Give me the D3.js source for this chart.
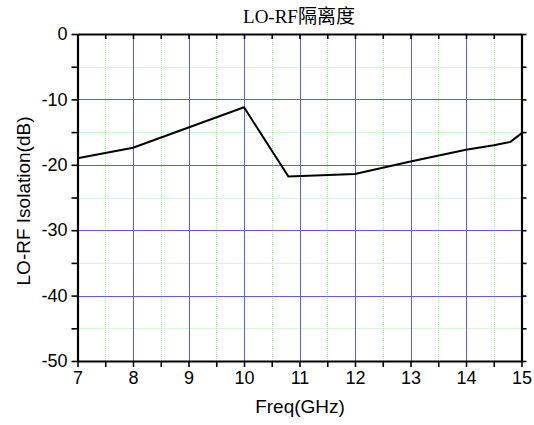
<!DOCTYPE html>
<html>
<head>
<meta charset="utf-8">
<script src="https://cdn.jsdelivr.net/npm/d3@7"></script>
<style>
  body { margin: 0; background: #fff; }
  text { font-family: Arial, "Liberation Sans", sans-serif; }
</style>
</head>
<body>
<svg width="534" height="425"></svg>
<script>
var freq = [7, 8, 9, 10, 10.8, 12, 13, 14, 14.5, 14.8, 15];
var isolation = [-19.0, -17.4, -14.3, -11.2, -21.8, -21.4, -19.5, -17.7, -17.0, -16.5, -15.2];
var xTicks = [7, 8, 9, 10, 11, 12, 13, 14, 15];
var yTicks = [0, -10, -20, -30, -40, -50];

(function () {
    'use strict';
    var svg = d3.select("svg");
    var left = 77.5, right = 521.5, top = 34, bottom = 361;

    var x = d3.scaleLinear().domain([7, 15]).range([left, right]);
    var y = d3.scaleLinear().domain([-50, 0]).range([bottom, top]);
    var px = function (d) { return Math.round(x(d)) + 0.5; };
    var py = function (d) { return Math.round(y(d)) + 0.5; };

    var xMinor = d3.range(7.5, 15, 1);
    var yMinor = d3.range(-45, 0, 10);

    // minor grid (green dotted)
    var g = svg.append("g");
    g.selectAll(".vminor").data(xMinor).enter().append("line")
        .attr("x1", px).attr("x2", px).attr("y1", top).attr("y2", bottom)
        .attr("stroke", "#a8eea8").attr("stroke-dasharray", "1,1");
    g.selectAll(".hminor").data(yMinor).enter().append("line")
        .attr("y1", py).attr("y2", py).attr("x1", left).attr("x2", right)
        .attr("stroke", "#a8eea8").attr("stroke-dasharray", "1,1");

    // major grid (blue)
    g.selectAll(".vmajor").data(xTicks.slice(1, -1)).enter().append("line")
        .attr("x1", px).attr("x2", px).attr("y1", top).attr("y2", bottom)
        .attr("stroke", "#5a5aff").attr("stroke-width", 1);
    g.selectAll(".hmajor").data(yTicks.slice(1, -1)).enter().append("line")
        .attr("y1", py).attr("y2", py).attr("x1", left).attr("x2", right)
        .attr("stroke", "#5a5aff").attr("stroke-width", 1);

    // data line
    var line = d3.line()
        .x(function (d, i) { return x(freq[i]); })
        .y(function (d) { return y(d); });
    svg.append("path")
        .datum(isolation)
        .attr("d", line)
        .attr("fill", "none")
        .attr("stroke", "#000")
        .attr("stroke-width", 2);

    // axes
    var allX = d3.range(7, 15.01, 0.5);
    var allY = d3.range(-50, 0.01, 5);
    function styleAxis(sel) {
        sel.select(".domain").attr("stroke-width", 2.2);
        sel.selectAll(".tick line").attr("stroke-width", 1.6);
        sel.selectAll("text").attr("font-size", 18).attr("fill", "#000");
    }

    var xb = svg.append("g").attr("transform", "translate(0," + bottom + ")")
        .call(d3.axisBottom(x).tickValues(allX).tickSize(6).tickSizeOuter(0).tickPadding(4)
            .tickFormat(function (d) { return d % 1 === 0 ? d : ""; }));
    styleAxis(xb);

    var xt = svg.append("g").attr("transform", "translate(0," + top + ")")
        .call(d3.axisBottom(x).tickValues(allX).tickSize(5).tickSizeOuter(0).tickFormat(""));
    styleAxis(xt);

    var yl = svg.append("g").attr("transform", "translate(" + left + ",0)")
        .call(d3.axisLeft(y).tickValues(allY).tickSize(6).tickSizeOuter(0).tickPadding(4)
            .tickFormat(function (d) { return d % 10 === 0 ? d : ""; }));
    styleAxis(yl);

    var yr = svg.append("g").attr("transform", "translate(" + right + ",0)")
        .call(d3.axisRight(y).tickValues(allY).tickSize(5).tickSizeOuter(0).tickFormat(""));
    styleAxis(yr);

    // labels
    svg.append("text")
        .attr("x", 299).attr("y", 23)
        .attr("text-anchor", "middle")
        .attr("font-size", 19)
        .style("font-family", "'Liberation Serif', 'Noto Sans CJK SC', serif")
        .text("LO-RF隔离度");

    svg.append("text")
        .attr("x", 300).attr("y", 413)
        .attr("text-anchor", "middle")
        .attr("font-size", 19)
        .text("Freq(GHz)");

    svg.append("text")
        .attr("transform", "translate(30,201) rotate(-90)")
        .attr("text-anchor", "middle")
        .attr("font-size", 19)
        .text("LO-RF Isolation(dB)");
}());
</script>
</body>
</html>
